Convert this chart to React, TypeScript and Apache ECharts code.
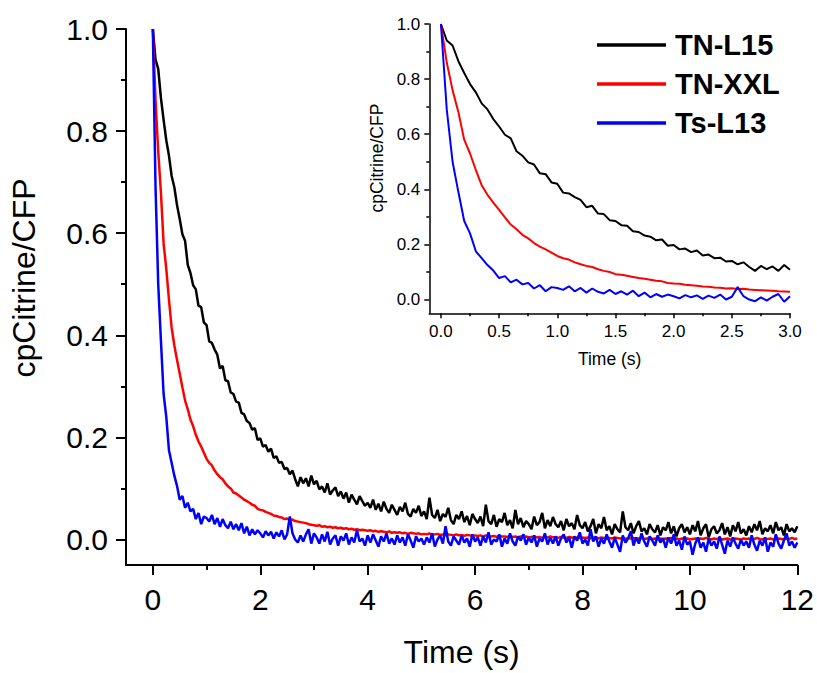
import React, { useEffect, useRef } from "react";
import * as echarts from "echarts";

// Sampling grid: 0.05 s steps from 0 to 12 s
const T_STEP = 0.05;
const N_POINTS = 241;

const seriesNames = ["TN-L15", "TN-XXL", "Ts-L13"];
const seriesColors = ["#000000", "#ff0000", "#0000ff"];

// 0.00 – 3.00 s
const tnL15Early = [
  1.0, 0.94, 0.922, 0.865, 0.822, 0.782, 0.752, 0.712, 0.69, 0.655,
  0.628, 0.598, 0.585, 0.538, 0.522, 0.498, 0.49, 0.458, 0.455, 0.425,
  0.42, 0.388, 0.385, 0.372, 0.362, 0.335, 0.34, 0.312, 0.31, 0.288,
  0.285, 0.27, 0.268, 0.248, 0.245, 0.232, 0.228, 0.215, 0.218, 0.195,
  0.198, 0.182, 0.185, 0.172, 0.178, 0.16, 0.163, 0.15, 0.152, 0.138,
  0.14, 0.128, 0.135, 0.118, 0.104, 0.122, 0.11, 0.12, 0.104, 0.125,
  0.108,
];
// 3.05 – 12.00 s
const tnL15Late = [
  0.115, 0.098, 0.104, 0.092, 0.11, 0.088, 0.096, 0.102, 0.085, 0.094,
  0.08, 0.092, 0.072, 0.088, 0.078, 0.069, 0.085, 0.075, 0.066, 0.072,
  0.062, 0.078, 0.058, 0.07, 0.055, 0.074, 0.06, 0.052, 0.068, 0.058,
  0.048, 0.064, 0.055, 0.072, 0.05, 0.045, 0.06, 0.052, 0.066, 0.046,
  0.055, 0.04, 0.082, 0.048, 0.042, 0.058, 0.036, 0.05, 0.044, 0.062,
  0.038, 0.03, 0.048, 0.04, 0.055, 0.034, 0.046, 0.028, 0.05, 0.04,
  0.032, 0.045, 0.026, 0.068, 0.036, 0.03, 0.048, 0.025, 0.04, 0.034,
  0.052, 0.028, 0.038, 0.022, 0.058, 0.03, 0.042, 0.024, 0.036, 0.03,
  0.02, 0.045, 0.028, 0.034, 0.052, 0.022, 0.038, 0.026, 0.044, 0.03,
  0.024, 0.036, 0.018, 0.04, 0.026, 0.032, 0.02, 0.048, 0.028, 0.022,
  0.034, 0.016, 0.026, 0.04, 0.012, 0.03, 0.022, 0.044, 0.018, 0.026,
  0.01, 0.03, 0.02, 0.014, 0.055, 0.024, 0.018, 0.032, 0.012, 0.026,
  0.036, 0.016, 0.022, 0.01, 0.03, 0.02, 0.014, 0.028, 0.008, 0.024,
  0.018, 0.034, 0.012, 0.026, 0.006, 0.022, 0.03, 0.014, 0.024, 0.01,
  0.028, 0.016, 0.036, 0.008, 0.022, 0.03, 0.004, 0.02, 0.026, 0.012,
  0.018, 0.032, 0.01, 0.024, 0.006, 0.028, 0.016, 0.034, 0.012, 0.02,
  0.008, 0.026, 0.014, 0.03, 0.018, 0.036, 0.01, 0.022, 0.016, 0.028,
  0.012, 0.034, 0.018, 0.024, 0.008, 0.03, 0.016, 0.022, 0.014, 0.026,
];

const tnXXLEarly = [
  1.0, 0.86, 0.76, 0.68, 0.58, 0.53, 0.47, 0.415, 0.38, 0.352,
  0.325, 0.298, 0.272, 0.255, 0.235, 0.222, 0.205, 0.192, 0.182, 0.17,
  0.158, 0.15, 0.145, 0.135, 0.128, 0.122, 0.118, 0.11, 0.104, 0.1,
  0.092, 0.09, 0.086, 0.082, 0.078, 0.075, 0.072, 0.068, 0.066, 0.06,
  0.058, 0.057, 0.054, 0.052, 0.05, 0.047, 0.046, 0.044, 0.043, 0.04,
  0.041, 0.038, 0.039, 0.036, 0.035, 0.034, 0.033, 0.032, 0.03, 0.029,
  0.028,
];
const tnXXLLate = [
  0.027, 0.028, 0.025, 0.026, 0.024, 0.025, 0.023, 0.024, 0.022, 0.023,
  0.021, 0.022, 0.02, 0.021, 0.019, 0.02, 0.018, 0.019, 0.018, 0.017,
  0.018, 0.016, 0.017, 0.015, 0.016, 0.015, 0.014, 0.016, 0.013, 0.014,
  0.013, 0.014, 0.012, 0.013, 0.011, 0.013, 0.012, 0.011, 0.012, 0.01,
  0.011, 0.01, 0.012, 0.009, 0.01, 0.011, 0.009, 0.01, 0.008, 0.01,
  0.009, 0.008, 0.01, 0.008, 0.009, 0.007, 0.009, 0.008, 0.007, 0.008,
  0.007, 0.008, 0.006, 0.008, 0.007, 0.006, 0.007, 0.005, 0.007, 0.006,
  0.006, 0.005, 0.007, 0.005, 0.006, 0.004, 0.006, 0.005, 0.006, 0.004,
  0.005, 0.006, 0.004, 0.005, 0.003, 0.005, 0.004, 0.006, 0.004, 0.005,
  0.003, 0.005, 0.004, 0.003, 0.005, 0.004, 0.002, 0.004, 0.003, 0.004,
  0.003, 0.004, 0.002, 0.004, 0.003, 0.002, 0.004, 0.003, 0.001, 0.003,
  0.002, 0.004, 0.003, 0.002, 0.003, 0.001, 0.003, 0.002, 0.003, 0.001,
  0.002, 0.003, 0.001, 0.002, 0.003, 0.001, 0.002, 0.0, 0.002, 0.001,
  0.002, 0.001, 0.003, 0.001, 0.002, 0.0, 0.002, 0.001, 0.002, 0.0,
  0.001, 0.002, 0.0, 0.002, 0.001, 0.003, 0.001, 0.0, 0.002, 0.001,
  0.002, 0.0, 0.001, 0.002, 0.0, 0.001, 0.002, 0.001, 0.0, 0.002,
  0.001, 0.002, 0.0, 0.001, 0.003, 0.001, 0.0, 0.002, 0.001, 0.002,
  0.0, 0.001, 0.002, 0.001, 0.0, 0.002, 0.001, 0.003, 0.001, 0.002,
];

const tsL13Early = [
  1.0, 0.69, 0.5, 0.39, 0.285, 0.24, 0.175, 0.15, 0.125, 0.105,
  0.078, 0.085, 0.062, 0.072, 0.055, 0.06, 0.04, 0.052, 0.03, 0.045,
  0.042, 0.035, 0.048, 0.03, 0.042, 0.025, 0.04, 0.028, 0.022, 0.035,
  0.02, 0.03, 0.018, 0.032, 0.012, 0.025, 0.008, 0.02, 0.01, 0.018,
  0.012, 0.004, 0.016, 0.008, 0.015, 0.002, 0.014, 0.006, 0.018, 0.0,
  0.01, 0.045, 0.012, 0.0, -0.006, 0.008, -0.004, 0.01, 0.02, -0.008,
  0.012,
];
const tsL13Late = [
  0.004, -0.008, 0.01, -0.004, 0.015, -0.01, 0.002, 0.008, -0.012, 0.006,
  -0.002, 0.012, -0.01, 0.004, -0.006, 0.018, -0.004, 0.002, -0.012, 0.008,
  -0.006, 0.01, -0.002, -0.014, 0.006, -0.004, 0.012, -0.008, 0.002, -0.01,
  0.008, -0.006, 0.004, -0.012, 0.01, -0.002, -0.016, 0.006, -0.004, 0.002,
  -0.01, 0.004, -0.006, 0.012, -0.014, 0.0, 0.008, -0.008, 0.026, -0.004,
  -0.012, 0.006, -0.002, -0.01, 0.008, -0.006, 0.002, -0.014, 0.01, -0.004,
  0.004, -0.012, 0.006, -0.006, 0.014, -0.01, 0.0, -0.004, 0.01, -0.014,
  0.002, -0.008, 0.012, -0.004, -0.012, 0.006, -0.002, 0.01, -0.01, 0.004,
  -0.006, 0.008, -0.014, 0.002, -0.004, 0.012, -0.01, 0.004, -0.008, 0.006,
  -0.012, 0.002, 0.01, -0.006, 0.004, -0.016, 0.006, -0.002, 0.014, -0.008,
  0.0, -0.012, 0.02, -0.004, 0.006, -0.014, 0.002, -0.008, 0.01, -0.004,
  -0.016, 0.004, -0.01, -0.024, 0.008, -0.006, 0.002, 0.016, -0.012, 0.004,
  -0.008, 0.012, -0.004, -0.014, 0.006, -0.002, -0.012, 0.008, -0.006, 0.002,
  -0.016, 0.004, -0.008, 0.01, -0.012, -0.002, -0.02, 0.006, -0.01, -0.004,
  -0.03, -0.008, 0.004, -0.016, -0.006, -0.024, 0.002, -0.012, -0.004, -0.018,
  0.006, -0.01, -0.028, -0.002, -0.014, 0.004, -0.008, -0.018, 0.0, -0.012,
  -0.004, -0.016, 0.008, -0.01, -0.022, -0.002, -0.012, 0.004, -0.024, -0.006,
  -0.014, 0.01, -0.008, -0.018, -0.002, 0.012, -0.012, -0.004, -0.016, -0.006,
];

// Axis ticks / labels
const mainXMajor = [0, 2, 4, 6, 8, 10, 12];
const mainXMinor = [1, 3, 5, 7, 9, 11];
const yMajor = [0, 0.2, 0.4, 0.6, 0.8, 1.0];
const yMinor = [0.1, 0.3, 0.5, 0.7, 0.9];
const insetXMajor = [0, 0.5, 1.0, 1.5, 2.0, 2.5, 3.0];
const insetXMinor = [0.25, 0.75, 1.25, 1.75, 2.25, 2.75];
const INSET_END_INDEX = 60; // t = 3.0 s

const FONT = "'Liberation Sans', Arial, Helvetica, sans-serif";

export default function App() {
  const ref = useRef<HTMLDivElement>(null);

  useEffect(() => {
    if (!ref.current) return;
    const chart = echarts.init(ref.current, null, { renderer: "svg" });

    const times: number[] = [];
    for (let i = 0; i < N_POINTS; i++) times.push(Math.round(i * T_STEP * 100) / 100);

    const allValues = [
      [...tnL15Early, ...tnL15Late],
      [...tnXXLEarly, ...tnXXLLate],
      [...tsL13Early, ...tsL13Late],
    ];

    const pairs = (vals: number[], end: number) =>
      vals.slice(0, end + 1).map((v, i) => [times[i], v]);

    const majorAxis = (
      grid: number,
      min: number,
      max: number,
      labels: number[],
      opts: any
    ) => ({
      type: "value",
      gridIndex: grid,
      min,
      max,
      splitLine: { show: false },
      axisLine: {
        show: true,
        onZero: false,
        lineStyle: { color: "#000", width: opts.lineWidth },
      },
      axisTick: {
        show: true,
        inside: false,
        length: opts.tickLen,
        customValues: labels,
        lineStyle: { color: "#000", width: opts.lineWidth },
      },
      axisLabel: {
        show: true,
        customValues: labels,
        margin: opts.labelMargin,
        color: "#000",
        fontSize: opts.fontSize,
        fontFamily: FONT,
        formatter: opts.formatter,
      },
    });

    const minorAxis = (
      grid: number,
      min: number,
      max: number,
      ticks: number[],
      opts: any
    ) => ({
      type: "value",
      gridIndex: grid,
      min,
      max,
      splitLine: { show: false },
      axisLine: { show: false, onZero: false },
      axisLabel: { show: false },
      axisTick: {
        show: true,
        inside: false,
        length: opts.tickLen,
        customValues: ticks,
        lineStyle: { color: "#000", width: opts.lineWidth },
      },
    });

    const fmt1 = (v: number) => v.toFixed(1);
    const fmt0 = (v: number) => String(Math.round(v));

    const xAxis = [
      {
        ...majorAxis(0, -0.5, 12, mainXMajor, {
          lineWidth: 2,
          tickLen: 10,
          labelMargin: 19,
          fontSize: 30,
          formatter: fmt0,
        }),
        position: "bottom",
        name: "Time (s)",
        nameLocation: "middle",
        nameGap: 71,
        nameTextStyle: { fontSize: 32, color: "#000", fontFamily: FONT },
      },
      { ...minorAxis(0, -0.5, 12, mainXMinor, { tickLen: 5, lineWidth: 2 }), position: "bottom" },
      {
        ...majorAxis(1, -0.1, 3, insetXMajor, {
          lineWidth: 1.5,
          tickLen: 5,
          labelMargin: 10,
          fontSize: 17,
          formatter: fmt1,
        }),
        position: "bottom",
        name: "Time (s)",
        nameLocation: "middle",
        nameGap: 37,
        nameTextStyle: { fontSize: 17.5, color: "#000", fontFamily: FONT },
      },
      { ...minorAxis(1, -0.1, 3, insetXMinor, { tickLen: 3, lineWidth: 1.5 }), position: "bottom" },
    ];

    const yAxis = [
      {
        ...majorAxis(0, -0.05, 1.0, yMajor, {
          lineWidth: 2,
          tickLen: 10,
          labelMargin: 18,
          fontSize: 30,
          formatter: fmt1,
        }),
        position: "left",
        name: "cpCitrine/CFP",
        nameLocation: "middle",
        nameGap: 86,
        nameTextStyle: {
          fontSize: 32,
          color: "#000",
          fontFamily: FONT,
          padding: [0, 0, 0, 38],
        },
      },
      { ...minorAxis(0, -0.05, 1.0, yMinor, { tickLen: 5, lineWidth: 2 }), position: "left" },
      {
        ...majorAxis(1, -0.05, 1.0, yMajor, {
          lineWidth: 1.5,
          tickLen: 5,
          labelMargin: 9,
          fontSize: 17,
          formatter: fmt1,
        }),
        position: "left",
        name: "cpCitrine/CFP",
        nameLocation: "middle",
        nameGap: 43,
        nameTextStyle: {
          fontSize: 17.5,
          color: "#000",
          fontFamily: FONT,
          padding: [0, 0, 0, 21],
        },
      },
      { ...minorAxis(1, -0.05, 1.0, yMinor, { tickLen: 3, lineWidth: 1.5 }), position: "left" },
    ];

    const series: any[] = [];
    seriesNames.forEach((name, k) => {
      series.push({
        name,
        type: "line",
        xAxisIndex: 0,
        yAxisIndex: 0,
        showSymbol: false,
        symbol: "none",
        clip: true,
        data: pairs(allValues[k], N_POINTS - 1),
        lineStyle: { color: seriesColors[k], width: 2.5 },
        itemStyle: { color: seriesColors[k] },
        z: 2 + k,
      });
    });
    seriesNames.forEach((name, k) => {
      series.push({
        name,
        type: "line",
        xAxisIndex: 2,
        yAxisIndex: 2,
        showSymbol: false,
        symbol: "none",
        clip: true,
        data: pairs(allValues[k], INSET_END_INDEX),
        lineStyle: { color: seriesColors[k], width: 2 },
        itemStyle: { color: seriesColors[k] },
        z: 2 + k,
      });
    });

    chart.setOption({
      animation: false,
      backgroundColor: "#ffffff",
      grid: [
        { left: 125.5, top: 29, width: 673.2, height: 540.3 },
        { left: 429.3, top: 24, width: 360.7, height: 289.3 },
      ],
      legend: {
        data: seriesNames,
        orient: "vertical",
        left: 597,
        top: 30.5,
        padding: 0,
        icon: "rect",
        itemWidth: 69,
        itemHeight: 3.5,
        itemGap: 10,
        selectedMode: false,
        textStyle: {
          fontSize: 29,
          fontWeight: "bold",
          color: "#000",
          fontFamily: FONT,
          padding: [0, 0, 0, 4],
        },
      },
      xAxis,
      yAxis,
      series,
    });

    return () => chart.dispose();
  }, []);

  return (
    <div
      ref={ref}
      style={{ position: "fixed", left: 0, top: 0, width: 817, height: 673, background: "#fff" }}
    />
  );
}
